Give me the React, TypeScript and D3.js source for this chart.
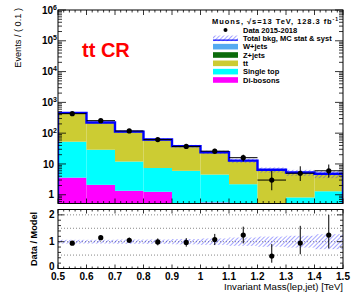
import React from "react";
import * as d3 from "d3";

// ---------- data ----------
const binLow = [0.5, 0.6, 0.7, 0.8, 0.9, 1.0, 1.1, 1.2, 1.3, 1.4];
const binWidth = 0.1;
const dataVals = [430, 255, 118, 62, 37, 26, 16, 3, 5, 6];
const dataErrLow = [21, 16, 11, 8, 6, 5, 4, 1.6, 2.2, 2.4];
const dataErrHigh = [21, 16, 11, 8, 6, 5, 4, 2.9, 3.4, 3.6];
const diboson = [3.6, 2.1, 1.35, 1.25, 0.3, 0.56, 0.2, 0.15, 0.1, 0.1];
const singleTop = [49.4, 26.9, 10.65, 6.15, 5.7, 3.98, 2.0, 0.3, 0.72, 1.2];
const ttbar = [385, 184.5, 95.2, 52.3, 30.2, 18.3, 9.9, 5.6, 4.1, 3.15];
const zjets = [3, 1.5, 0.8, 0.5, 0.3, 0.2, 0.12, 0.08, 0.06, 0.05];
const wjets = [14, 7, 4, 2.3, 1.5, 1.0, 0.6, 0.35, 0.3, 0.3];
const systRel = [0.07, 0.07, 0.08, 0.08, 0.1, 0.12, 0.155, 0.19, 0.22, 0.28];
const xTickLabels = ["0.5", "0.6", "0.7", "0.8", "0.9", "1", "1.1", "1.2", "1.3", "1.4", "1.5"];
const yDecades = [0, 1, 2, 3, 4, 5, 6];
const ratioLabels = [0, 1, 2];
const ratioGrid = [0.5, 1, 1.5, 2];

const sampleKeys = ["diboson", "singleTop", "ttbar", "zjets", "wjets"];
const sampleColors: Record<string, string> = {
  diboson: "#ff00ff",
  singleTop: "#00ffff",
  ttbar: "#cccc33",
  zjets: "#0b6b0b",
  wjets: "#55aaf0",
};
const legendEntries = [
  { key: "wjets", label: "W+jets" },
  { key: "zjets", label: "Z+jets" },
  { key: "ttbar", label: "tt" },
  { key: "singleTop", label: "Single top" },
  { key: "diboson", label: "Di-bosons" },
];

// ---------- layout ----------
const X0 = 58, X1 = 343;
const T0 = 10, T1 = 203.5;
const R0 = 209.5, R1 = 268.5;
const FONT = "'Liberation Sans', Arial, Helvetica, sans-serif";

export default function App() {
  const x = d3.scaleLinear().domain([0.5, 1.5]).range([X0, X1]);
  const y = d3.scaleLog().domain([0.52, 1e6]).range([T1, T0]);
  const yr = d3.scaleLinear().domain([0, 2.2]).range([R1, R0]);
  const yc = (v: number) => Math.min(T1, Math.max(T0, y(Math.max(v, 1e-3))));

  const rows = binLow.map((lo, i) => ({
    lo,
    diboson: diboson[i],
    singleTop: singleTop[i],
    ttbar: ttbar[i],
    zjets: zjets[i],
    wjets: wjets[i],
  }));
  const stacked = d3.stack<any>().keys(sampleKeys)(rows);
  const total = rows.map((_, i) => stacked[stacked.length - 1][i][1]);

  let outline = `M${x(0.5)},${T1}`;
  binLow.forEach((lo, i) => {
    outline += `L${x(lo)},${y(total[i])}L${x(lo + binWidth)},${y(total[i])}`;
  });
  outline += `L${x(1.5)},${T1}`;

  const xMinor = d3.range(0, 51).map((k) => 0.5 + k * 0.02);
  const logTicks: { v: number; major: boolean }[] = [];
  for (let d = -1; d <= 5; d++) {
    for (let m = 1; m <= 9; m++) {
      const v = m * Math.pow(10, d);
      if (v >= 0.52 && v <= 1e6) logTicks.push({ v, major: m === 1 });
    }
  }
  logTicks.push({ v: 1e6, major: true });
  const rMinor = d3.range(0, 12).map((k) => k * 0.2);

  const tickLines: JSX.Element[] = [];
  xMinor.forEach((v, k) => {
    const major = k % 5 === 0;
    const xp = x(v);
    const lt = major ? 5 : 2.5;
    const lr = major ? 4 : 2;
    tickLines.push(<line key={`tt${k}`} x1={xp} x2={xp} y1={T0} y2={T0 + lt} />);
    tickLines.push(<line key={`tb${k}`} x1={xp} x2={xp} y1={T1} y2={T1 - lt} />);
    tickLines.push(<line key={`rt${k}`} x1={xp} x2={xp} y1={R0} y2={R0 + lr} />);
    tickLines.push(<line key={`rb${k}`} x1={xp} x2={xp} y1={R1} y2={R1 - lr} />);
  });
  logTicks.forEach((t, k) => {
    const yp = y(t.v);
    const l = t.major ? 8 : 4;
    tickLines.push(<line key={`ll${k}`} x1={X0} x2={X0 + l} y1={yp} y2={yp} />);
    tickLines.push(<line key={`lr${k}`} x1={X1} x2={X1 - l} y1={yp} y2={yp} />);
  });
  rMinor.forEach((v, k) => {
    if (v > 2.2) return;
    const yp = yr(v);
    const major = Math.abs(v - Math.round(v)) < 1e-6;
    const l = major ? 6 : 3;
    tickLines.push(<line key={`yl${k}`} x1={X0} x2={X0 + l} y1={yp} y2={yp} />);
    tickLines.push(<line key={`yr${k}`} x1={X1} x2={X1 - l} y1={yp} y2={yp} />);
  });

  const legRowY = (i: number) => 30 + i * 8.33;

  return (
    <svg width={356} height={292} style={{ display: "block", position: "absolute", left: 0, top: 0 }} fontFamily={FONT}>
      <defs>
        <pattern id="hatch" patternUnits="userSpaceOnUse" width="3" height="3" patternTransform="rotate(45)">
          <line x1="0" y1="0" x2="0" y2="3" stroke="#3a3aff" strokeWidth="0.9" />
        </pattern>
        <clipPath id="topClip">
          <rect x={X0} y={T0} width={X1 - X0} height={T1 - T0} />
        </clipPath>
        <clipPath id="ratClip">
          <rect x={X0} y={R0} width={X1 - X0} height={R1 - R0} />
        </clipPath>
      </defs>
      <rect x={0} y={0} width={356} height={292} fill="#fff" />

      {/* ---------- top panel ---------- */}
      <g clipPath="url(#topClip)">
        {stacked.map((layer) => (
          <g key={layer.key} fill={sampleColors[layer.key]}>
            {layer.map((d, i) => {
              const yTop = yc(d[1]);
              const yBot = d[0] <= 0 ? T1 : yc(d[0]);
              if (yBot - yTop <= 0) return null;
              return (
                <rect key={i} x={x(binLow[i])} y={yTop} width={x(binLow[i] + binWidth) - x(binLow[i])} height={yBot - yTop} />
              );
            })}
          </g>
        ))}
        {binLow.map((lo, i) => {
          const a = yc(total[i] * (1 + systRel[i]));
          const b = yc(total[i] * (1 - systRel[i]));
          return <rect key={`band${i}`} x={x(lo)} y={a} width={x(lo + binWidth) - x(lo)} height={b - a} fill="url(#hatch)" />;
        })}
        <path d={outline} fill="none" stroke="#0000ff" strokeWidth={2.4} />
        {binLow.map((lo, i) => {
          const cx = x(lo + binWidth / 2);
          const cy = y(dataVals[i]);
          return (
            <g key={`d${i}`} stroke="#000" strokeWidth={1}>
              <line x1={x(lo)} x2={x(lo + binWidth)} y1={cy} y2={cy} />
              <line x1={cx} x2={cx} y1={yc(dataVals[i] + dataErrHigh[i])} y2={yc(dataVals[i] - dataErrLow[i])} />
              <circle cx={cx} cy={cy} r={2.6} fill="#000" stroke="none" />
            </g>
          );
        })}
      </g>
      <rect x={X0} y={T0} width={X1 - X0} height={T1 - T0} fill="none" stroke="#000" strokeWidth={1} />

      {/* ---------- ratio panel ---------- */}
      <g clipPath="url(#ratClip)">
        {ratioGrid.map((g) => (
          <line key={`g${g}`} x1={X0} x2={X1} y1={yr(g)} y2={yr(g)} stroke="#555" strokeWidth={0.7} strokeDasharray="1,2" />
        ))}
        {binLow.map((lo, i) => {
          const a = yr(1 + systRel[i]);
          const b = yr(1 - systRel[i]);
          return <rect key={`rb${i}`} x={x(lo)} y={a} width={x(lo + binWidth) - x(lo)} height={b - a} fill="url(#hatch)" />;
        })}
        {binLow.map((lo, i) => {
          const cx = x(lo + binWidth / 2);
          const r = dataVals[i] / total[i];
          const up = (dataVals[i] + dataErrHigh[i]) / total[i];
          const dn = (dataVals[i] - dataErrLow[i]) / total[i];
          return (
            <g key={`r${i}`} stroke="#000" strokeWidth={1}>
              <line x1={cx} x2={cx} y1={yr(up)} y2={yr(dn)} />
              <circle cx={cx} cy={yr(r)} r={2.6} fill="#000" stroke="none" />
            </g>
          );
        })}
      </g>
      <rect x={X0} y={R0} width={X1 - X0} height={R1 - R0} fill="none" stroke="#000" strokeWidth={1} />

      <g stroke="#000" strokeWidth={0.8}>{tickLines}</g>

      {/* ---------- axis labels ---------- */}
      <g fontSize={10} fontWeight="bold" fill="#000">
        {yDecades.map((d) =>
          d === 0 ? (
            <text key={d} x={54} y={y(1) + 3.6} textAnchor="end">1</text>
          ) : d === 1 ? (
            <text key={d} x={54} y={y(10) + 3.6} textAnchor="end">10</text>
          ) : (
            <text key={d} x={57} y={y(Math.pow(10, d)) + 3.6} textAnchor="end">
              10<tspan fontSize={7} dy={-4}>{d}</tspan>
            </text>
          )
        )}
        {ratioLabels.map((r) => (
          <text key={`rl${r}`} x={54.5} y={r === 0 ? yr(r) + 1.2 : yr(r) + 3.6} textAnchor="end">{r}</text>
        ))}
        {xTickLabels.map((t, k) => (
          <text key={`xl${k}`} x={x(0.5 + k * 0.1)} y={279.5} textAnchor="middle">{t}</text>
        ))}
      </g>
      <text x={343} y={289.8} textAnchor="end" fontSize={9.6} fill="#000">Invariant Mass(lep,jet) [TeV]</text>
      <text transform="translate(20.5,8) rotate(-90)" textAnchor="end" fontSize={9.2} fill="#000">Events / ( 0.1 )</text>
      <text transform={`translate(36.5,${(R0 + R1) / 2}) rotate(-90)`} textAnchor="middle" fontSize={9.2} fontWeight="bold" fill="#000">Data / Model</text>

      {/* ---------- tt CR ---------- */}
      <text x={82} y={57} fontSize={20} fontWeight="bold" fill="#ff0000">tt CR</text>

      {/* ---------- legend ---------- */}
      <g fontSize={7.5} fontWeight="bold" fill="#000">
        <text x={212} y={24.4} textLength={126} lengthAdjust="spacing">
          Muons, √s=13 TeV, 128.3 fb<tspan fontSize={5} dy={-3}>-1</tspan>
        </text>
        <circle cx={225.5} cy={legRowY(0)} r={2} fill="#000" />
        <text x={243} y={legRowY(0) + 2.7}>Data 2015-2018</text>
        <rect x={213} y={legRowY(1) - 2.8} width={25} height={5.6} fill="url(#hatch)" />
        <line x1={213} x2={238} y1={legRowY(1) + 1.8} y2={legRowY(1) + 1.8} stroke="#0000ff" strokeWidth={1.2} />
        <text x={243} y={legRowY(1) + 2.7}>Total bkg, MC stat &amp; syst</text>
        {legendEntries.map((e, i) => (
          <g key={e.key}>
            <rect x={213} y={legRowY(i + 2) - 2.8} width={25} height={5.6} fill={sampleColors[e.key]} />
            <text x={243} y={legRowY(i + 2) + 2.7}>{e.label}</text>
          </g>
        ))}
      </g>
    </svg>
  );
}
